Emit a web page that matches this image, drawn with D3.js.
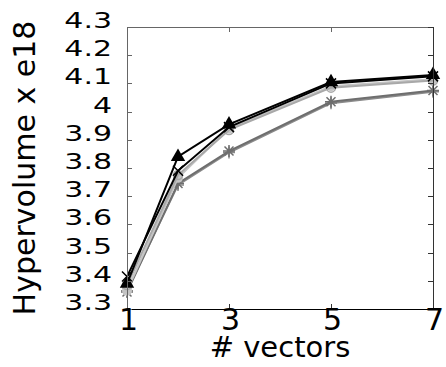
<!DOCTYPE html>
<html><head><meta charset="utf-8">
<script src="https://cdn.jsdelivr.net/npm/d3@7"></script>
<style>
html,body{margin:0;padding:0;background:#fff;}
svg{display:block;font-family:"DejaVu Sans",sans-serif;}
</style></head>
<body><div id="chart"></div>
<script>
const xValues = [1, 2, 3, 5, 7];
const xTicks = [1, 3, 5, 7];
const yTicks = [3.3, 3.4, 3.5, 3.6, 3.7, 3.8, 3.9, 4.0, 4.1, 4.2, 4.3];
const seriesTriangle = [3.39, 3.84, 3.955, 4.105, 4.13];
const seriesCross = [3.415, 3.79, 3.945, 4.10, 4.125];
const seriesCircle = [3.385, 3.775, 3.935, 4.085, 4.11];
const seriesDisc = [3.365, 3.765, 3.94, 4.09, 4.115];
const seriesStar = [3.36, 3.745, 3.86, 4.035, 4.075];
const seriesPlus = [3.365, 3.74, 3.855, 4.03, 4.07];

const W = 446, H = 367;
const pLeft = 127, pRight = 433, pTop = 27, pBottom = 309;
const x = d3.scaleLinear().domain([1, 7]).range([pLeft, pRight]);
const y = d3.scaleLinear().domain([3.3, 4.3]).range([pBottom, pTop]);

const svg = d3.select("#chart").append("svg").attr("width", W).attr("height", H);

const series = [
  {vals: seriesPlus, color: "#8a8a8a", mark: "plus"},
  {vals: seriesStar, color: "#6e6e6e", mark: "star"},
  {vals: seriesDisc, color: "#c4c4c4", mark: "disc"},
  {vals: seriesCircle, color: "#a8a8a8", mark: "circle"},
  {vals: seriesCross, color: "#000", mark: "cross"},
  {vals: seriesTriangle, color: "#000", mark: "triangle"}
];

const line = d3.line().x((d, i) => x(xValues[i])).y(d => y(d));

series.forEach(s => {
  svg.append("path").datum(s.vals).attr("d", line)
    .attr("fill", "none").attr("stroke", s.color).attr("stroke-width", 2);
  const g = svg.append("g");
  s.vals.forEach((v, i) => {
    const cx = x(xValues[i]), cy = y(v);
    if (s.mark === "triangle") {
      g.append("path").attr("d", d3.symbol().type(d3.symbolTriangle).size(90)())
        .attr("transform", `translate(${cx},${cy})`).attr("fill", s.color);
    } else if (s.mark === "cross") {
      g.append("path").attr("d", `M${cx-5},${cy-5}L${cx+5},${cy+5}M${cx-5},${cy+5}L${cx+5},${cy-5}`)
        .attr("stroke", s.color).attr("stroke-width", 1.5);
    } else if (s.mark === "star") {
      g.append("path").attr("d", `M${cx-6},${cy}L${cx+6},${cy}M${cx},${cy-6}L${cx},${cy+6}M${cx-4.5},${cy-4.5}L${cx+4.5},${cy+4.5}M${cx-4.5},${cy+4.5}L${cx+4.5},${cy-4.5}`)
        .attr("stroke", s.color).attr("stroke-width", 1.5);
    } else if (s.mark === "plus") {
      g.append("path").attr("d", `M${cx-6},${cy}L${cx+6},${cy}M${cx},${cy-6}L${cx},${cy+6}`)
        .attr("stroke", s.color).attr("stroke-width", 1.5);
    } else if (s.mark === "circle") {
      g.append("circle").attr("cx", cx).attr("cy", cy).attr("r", 4.5)
        .attr("fill", "none").attr("stroke", s.color).attr("stroke-width", 1.5);
    } else if (s.mark === "disc") {
      g.append("circle").attr("cx", cx).attr("cy", cy).attr("r", 5).attr("fill", s.color);
    }
  });
});

// frame
svg.append("line").attr("x1", pLeft+0.5).attr("x2", pLeft+0.5).attr("y1", pTop).attr("y2", pBottom).attr("stroke", "#666");
svg.append("line").attr("x1", pLeft).attr("x2", pRight).attr("y1", pTop+0.5).attr("y2", pTop+0.5).attr("stroke", "#666");
svg.append("line").attr("x1", pRight+0.5).attr("x2", pRight+0.5).attr("y1", pTop).attr("y2", pBottom).attr("stroke", "#333");
svg.append("line").attr("x1", pLeft).attr("x2", pRight+1).attr("y1", pBottom+0.5).attr("y2", pBottom+0.5).attr("stroke", "#000");

// y ticks
yTicks.forEach(t => {
  const ty = Math.round(y(t)) + 0.5;
  svg.append("line").attr("x1", pLeft).attr("x2", pLeft+5).attr("y1", ty).attr("y2", ty).attr("stroke", "#666");
  svg.append("line").attr("x1", pRight-5).attr("x2", pRight).attr("y1", ty).attr("y2", ty).attr("stroke", "#333");
  svg.append("text").attr("transform", `translate(112,${y(t)+1}) scale(1,0.73)`)
    .attr("text-anchor", "end").attr("font-size", 30).attr("fill", "#000")
    .text(d3.format(".1~f")(t));
});
// x ticks
xTicks.forEach(t => {
  const tx = Math.round(x(t)) + 0.5;
  if (t !== 1 && t !== 7) {
    svg.append("line").attr("x1", tx).attr("x2", tx).attr("y1", pBottom).attr("y2", pBottom-5).attr("stroke", "#333");
    svg.append("line").attr("x1", tx).attr("x2", tx).attr("y1", pTop).attr("y2", pTop+5).attr("stroke", "#666");
  }
  svg.append("text").attr("x", x(t) + 1.5).attr("y", 330)
    .attr("text-anchor", "middle").attr("font-size", 30).attr("fill", "#000").text(t);
});

svg.append("text").attr("x", 280).attr("y", 357).attr("text-anchor", "middle")
  .attr("font-size", 29).attr("fill", "#000").text("# vectors");
svg.append("text").attr("transform", "translate(35,168) rotate(-90)").attr("text-anchor", "middle")
  .attr("font-size", 30).attr("fill", "#000").text("Hypervolume x e18");
</script></body></html>
